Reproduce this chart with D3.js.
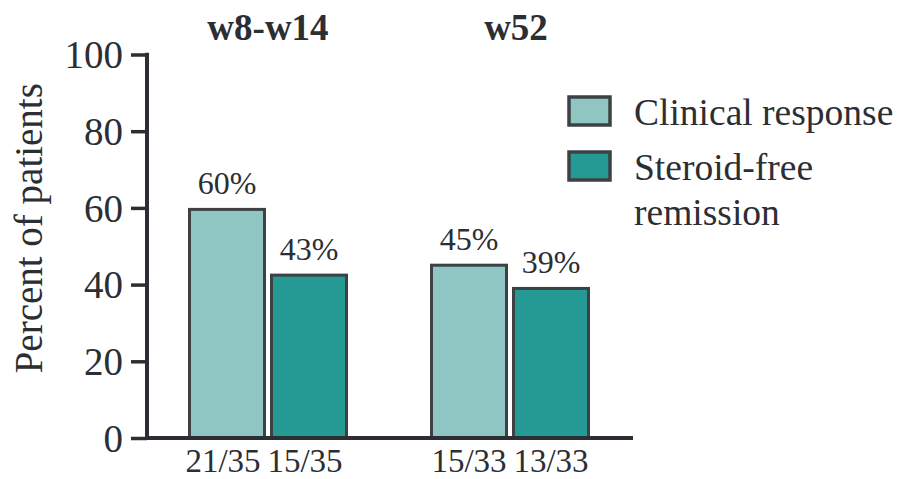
<!DOCTYPE html>
<html><head><meta charset="utf-8">
<script src="https://cdn.jsdelivr.net/npm/d3@7"></script>
<style>body{margin:0;background:#fff}svg{display:block}text{font-family:"Liberation Serif","DejaVu Serif",serif;fill:#2b2e33}</style>
</head><body><svg id="c" width="899" height="479"></svg>
<script>
const groups = ["w8-w14", "w52"];
const series = ["Clinical response", "Steroid-free remission"];
const values = [[60.0, 42.86], [45.45, 39.39]];
const pctLabels = [["60%", "43%"], ["45%", "39%"]];
const countLabels = [["21/35", "15/35"], ["15/33", "13/33"]];
const yTicks = [0, 20, 40, 60, 80, 100];
const colors = ["#8fc5c3", "#259a95"];
const legendLines = [["Clinical response"], ["Steroid-free", "remission"]];

const svg = d3.select("#c");
const axisColor = "#2b2e33", strokeColor = "#3d4143";
const y = d3.scaleLinear().domain([0, 100]).range([438, 54.5]);
const x0 = d3.scaleBand().domain(groups).range([147, 631]);
const x1 = d3.scaleBand().domain(series).range([0, 160]).paddingInner(4/82);

// y axis
const yAxis = svg.append("g").attr("transform", "translate(147,0)")
  .call(d3.axisLeft(y).tickValues(yTicks).tickSize(16).tickPadding(8));
yAxis.select(".domain").remove();
yAxis.selectAll(".tick line").attr("stroke", axisColor).attr("stroke-width", 3.5);
yAxis.selectAll(".tick text").attr("font-size", 39).attr("fill", axisColor)
  .attr("font-family", '"Liberation Serif",serif').attr("dy", "0.34em");
svg.append("line").attr("x1", 147).attr("x2", 147).attr("y1", y(100) - 1.75).attr("y2", y(0) + 1.75)
  .attr("stroke", axisColor).attr("stroke-width", 4);

svg.append("text").attr("transform", `translate(42,${(y(0)+y(100))/2-18}) rotate(-90)`)
  .attr("text-anchor", "middle").attr("font-size", 39).text("Percent of patients");

// bars
groups.forEach((g, gi) => {
  const gx = x0(g) + x0.bandwidth()/2 - 80;
  series.forEach((s, si) => {
    const bx = gx + x1(s);
    const v = values[gi][si];
    svg.append("rect").attr("x", bx + 1.5).attr("y", y(v) + 1.5)
      .attr("width", x1.bandwidth() - 3).attr("height", y(0) - y(v) - 1.5)
      .attr("fill", colors[si]).attr("stroke", strokeColor).attr("stroke-width", 3);
    svg.append("text").attr("x", bx + x1.bandwidth()/2).attr("y", y(v) - 14)
      .attr("text-anchor", "middle").attr("font-size", 32).text(pctLabels[gi][si]);
    svg.append("text").attr("x", bx + x1.bandwidth()/2 - (gi ? 0 : 4)).attr("y", 472)
      .attr("text-anchor", "middle").attr("font-size", 33).text(countLabels[gi][si]);
  });
  svg.append("text").attr("x", x0(g) + x0.bandwidth()/2 + (gi ? 6 : 0)).attr("y", 40)
    .attr("text-anchor", "middle").attr("font-size", 37).attr("font-weight", "bold").text(g);
});

// x axis line
svg.append("line").attr("x1", 145).attr("x2", 633).attr("y1", y(0)).attr("y2", y(0))
  .attr("stroke", axisColor).attr("stroke-width", 4);

// legend
const lg = svg.append("g");
series.forEach((s, i) => {
  const top = 97 + i * 55;
  lg.append("rect").attr("x", 569).attr("y", top).attr("width", 41).attr("height", 28)
    .attr("fill", colors[i]).attr("stroke", strokeColor).attr("stroke-width", 3.5);
  legendLines[i].forEach((t, j) => {
    lg.append("text").attr("x", 634).attr("y", 125 + i * 55 + j * 45)
      .attr("font-size", 37.5).text(t);
  });
});
</script></body></html>
